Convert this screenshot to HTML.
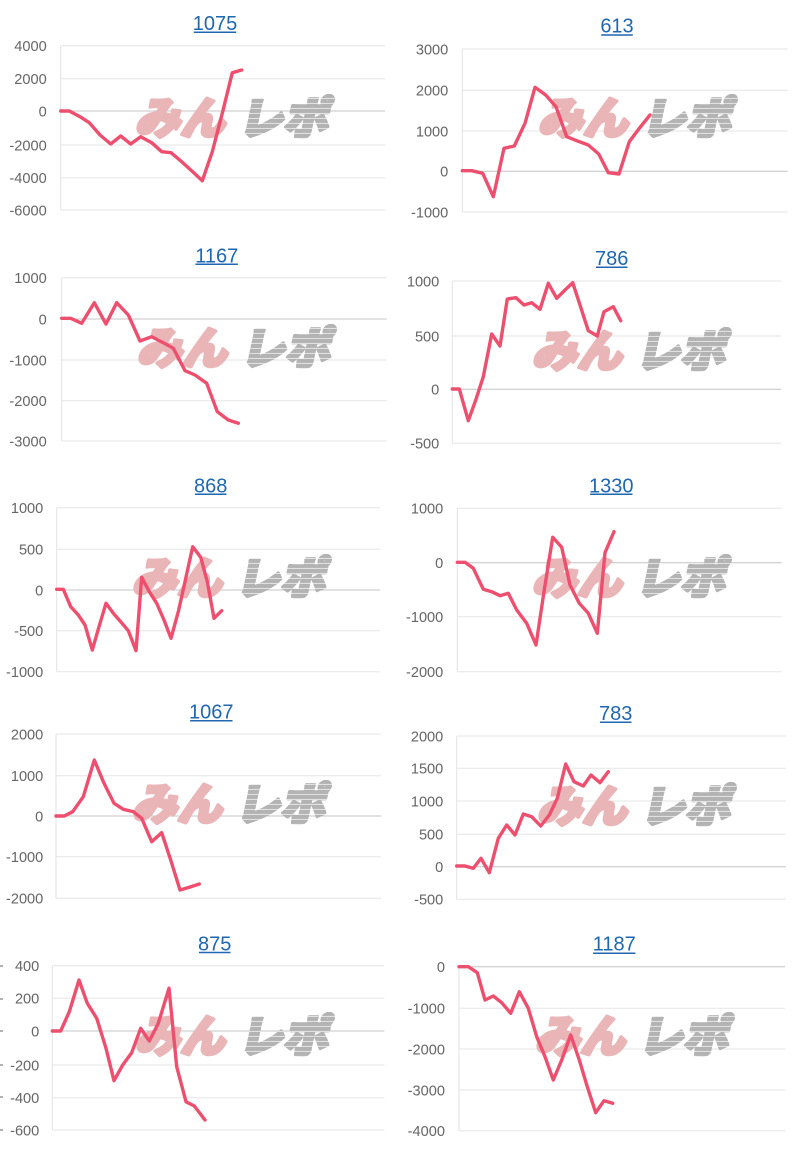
<!DOCTYPE html>
<html><head><meta charset="utf-8">
<style>
html,body{margin:0;padding:0;background:#fff;}
svg{display:block;}
.g{stroke:#e6e6e6;stroke-width:1;}
.z{stroke:#c4c4c4;stroke-width:1;}
.ax{stroke:#e2e2e2;stroke-width:1;}
.lb{font-family:"Liberation Sans",sans-serif;font-size:14.6px;fill:#666;text-anchor:end;}
.tt{font-family:"Liberation Sans",sans-serif;font-size:20px;fill:#1f67b1;text-anchor:middle;}
.ul{stroke:#1f67b1;stroke-width:1.5;}
.ln{fill:none;stroke:#ee4f6e;stroke-width:3.4;stroke-linejoin:round;stroke-linecap:round;}
.wp{font-family:"Liberation Sans","Noto Sans CJK JP",sans-serif;font-size:44px;font-weight:900;fill:#e9b5b7;stroke:#e9b5b7;stroke-width:3.5;stroke-linejoin:round;}
.wg{font-family:"Liberation Sans","Noto Sans CJK JP",sans-serif;font-size:44px;font-weight:900;fill:url(#st);stroke:url(#st);stroke-width:3.5;stroke-linejoin:round;}
</style></head>
<body>
<svg width="802" height="1150" viewBox="0 0 802 1150" xmlns="http://www.w3.org/2000/svg">
<defs>
<pattern id="st" patternUnits="userSpaceOnUse" x="0" y="0" width="10" height="5">
<rect x="0" y="0" width="10" height="5" fill="#b3b3b3"/>
<rect x="0" y="4" width="10" height="1" fill="#e4e4e4"/>
</pattern>
</defs>

<!-- Chart 1 -->
<text class="tt" x="215" y="30">1075</text><line class="ul" x1="193.8" y1="32.3" x2="236.2" y2="32.3"/>
<line class="g" x1="60.7" y1="45.7" x2="385" y2="45.7"/>
<line class="g" x1="60.7" y1="78.7" x2="385" y2="78.7"/>
<line class="z" x1="60.7" y1="111" x2="385" y2="111"/>
<line class="g" x1="60.7" y1="145" x2="385" y2="145"/>
<line class="g" x1="60.7" y1="177.7" x2="385" y2="177.7"/>
<line class="g" x1="60.7" y1="210" x2="385" y2="210"/>
<line class="ax" x1="60.7" y1="45.7" x2="60.7" y2="210"/>
<text class="lb" x="46.7" y="51">4000</text>
<text class="lb" x="46.7" y="84">2000</text>
<text class="lb" x="46.7" y="116.3">0</text>
<text class="lb" x="46.7" y="150.3">-2000</text>
<text class="lb" x="46.7" y="183">-4000</text>
<text class="lb" x="46.7" y="215.3">-6000</text>
<g transform="translate(135,134) skewX(-12)"><text class="wp" x="0" y="0" textLength="90" lengthAdjust="spacingAndGlyphs">みん</text></g>
<g transform="translate(238,134) skewX(-12)"><text class="wg" x="0" y="0" textLength="90" lengthAdjust="spacingAndGlyphs">レポ</text></g>
<polyline class="ln" points="60.7,111 69.3,111 80,116.7 89.3,122.7 100,135 110.7,144 120.7,136 130.7,144 140.7,136.7 151.7,142.7 161.7,151.7 171,152.7 181.7,161.7 192.7,171.7 202.3,180.7 212.3,151.7 222.7,111.7 232.3,72.7 241.7,70"/>

<!-- Chart 2 -->
<text class="tt" x="617" y="32.5">613</text><line class="ul" x1="601.2" y1="35" x2="632.8" y2="35"/>
<line class="g" x1="462.3" y1="49" x2="787.7" y2="49"/>
<line class="g" x1="462.3" y1="90.3" x2="787.7" y2="90.3"/>
<line class="g" x1="462.3" y1="131" x2="787.7" y2="131"/>
<line class="z" x1="462.3" y1="171.3" x2="787.7" y2="171.3"/>
<line class="g" x1="462.3" y1="212" x2="787.7" y2="212"/>
<line class="ax" x1="462.3" y1="49" x2="462.3" y2="212"/>
<text class="lb" x="448.3" y="54.3">3000</text>
<text class="lb" x="448.3" y="95.6">2000</text>
<text class="lb" x="448.3" y="136.3">1000</text>
<text class="lb" x="448.3" y="176.6">0</text>
<text class="lb" x="448.3" y="217.3">-1000</text>
<g transform="translate(538,134) skewX(-12)"><text class="wp" x="0" y="0" textLength="90" lengthAdjust="spacingAndGlyphs">みん</text></g>
<g transform="translate(641,134) skewX(-12)"><text class="wg" x="0" y="0" textLength="90" lengthAdjust="spacingAndGlyphs">レポ</text></g>
<polyline class="ln" points="462.3,170.7 471.7,170.7 482.7,173.3 493.3,196.7 504,148.3 514.3,146 525,123.3 535,87.3 545.7,95 556,106.7 566.7,136.7 576.7,140.7 588.3,145 598.7,154 608.3,172.7 619,174 629.3,141.7 639.3,128.3 650,115"/>

<!-- Chart 3 -->
<text class="tt" x="216.7" y="262.3">1167</text><line class="ul" x1="195.5" y1="264.3" x2="237.9" y2="264.3"/>
<line class="g" x1="61.7" y1="277.7" x2="386.7" y2="277.7"/>
<line class="z" x1="61.7" y1="319" x2="386.7" y2="319"/>
<line class="g" x1="61.7" y1="360" x2="386.7" y2="360"/>
<line class="g" x1="61.7" y1="400.7" x2="386.7" y2="400.7"/>
<line class="g" x1="61.7" y1="441" x2="386.7" y2="441"/>
<line class="ax" x1="61.7" y1="277.7" x2="61.7" y2="441"/>
<text class="lb" x="46.7" y="283">1000</text>
<text class="lb" x="46.7" y="324.3">0</text>
<text class="lb" x="46.7" y="365.3">-1000</text>
<text class="lb" x="46.7" y="406">-2000</text>
<text class="lb" x="46.7" y="446.3">-3000</text>
<g transform="translate(137,364) skewX(-12)"><text class="wp" x="0" y="0" textLength="90" lengthAdjust="spacingAndGlyphs">みん</text></g>
<g transform="translate(240,364) skewX(-12)"><text class="wg" x="0" y="0" textLength="90" lengthAdjust="spacingAndGlyphs">レポ</text></g>
<polyline class="ln" points="61.7,318.3 70.7,318.3 81.7,323.3 94.3,302.7 106,324 116.7,302.7 128.3,315 140,341 151.7,336.7 163.3,342.7 173.3,348.3 185,370.7 195,375 206.7,383.3 217.3,411.7 228.3,420 238.3,423.3"/>

<!-- Chart 4 -->
<text class="tt" x="611.7" y="265">786</text><line class="ul" x1="595.9" y1="267.3" x2="627.5" y2="267.3"/>
<line class="g" x1="452.3" y1="281" x2="781" y2="281"/>
<line class="g" x1="452.3" y1="336" x2="781" y2="336"/>
<line class="z" x1="452.3" y1="389.3" x2="781" y2="389.3"/>
<line class="g" x1="452.3" y1="443.3" x2="781" y2="443.3"/>
<line class="ax" x1="452.3" y1="281" x2="452.3" y2="443.3"/>
<text class="lb" x="439.3" y="286.3">1000</text>
<text class="lb" x="439.3" y="341.3">500</text>
<text class="lb" x="439.3" y="394.6">0</text>
<text class="lb" x="439.3" y="448.6">-500</text>
<g transform="translate(532,367) skewX(-12)"><text class="wp" x="0" y="0" textLength="90" lengthAdjust="spacingAndGlyphs">みん</text></g>
<g transform="translate(635,367) skewX(-12)"><text class="wg" x="0" y="0" textLength="90" lengthAdjust="spacingAndGlyphs">レポ</text></g>
<polyline class="ln" points="452.3,389 459.3,389 468.3,420.7 476,399.3 483.3,376.7 491.7,334 500,346 507.3,299 516,297.7 524,305 531.7,302.7 540,309.3 548.3,283.3 556.7,298.3 565,290 572.7,282.7 580,305 588.3,330.7 597.3,336 604,311.7 613.3,306.7 620.7,320.7"/>

<!-- Chart 5 -->
<text class="tt" x="210.7" y="492.3">868</text><line class="ul" x1="194.9" y1="494.3" x2="226.5" y2="494.3"/>
<line class="g" x1="56.7" y1="507.7" x2="380" y2="507.7"/>
<line class="g" x1="56.7" y1="549.3" x2="380" y2="549.3"/>
<line class="z" x1="56.7" y1="590" x2="380" y2="590"/>
<line class="g" x1="56.7" y1="630.7" x2="380" y2="630.7"/>
<line class="g" x1="56.7" y1="671.7" x2="380" y2="671.7"/>
<line class="ax" x1="56.7" y1="507.7" x2="56.7" y2="671.7"/>
<text class="lb" x="43.3" y="513">1000</text>
<text class="lb" x="43.3" y="554.6">500</text>
<text class="lb" x="43.3" y="595.3">0</text>
<text class="lb" x="43.3" y="636">-500</text>
<text class="lb" x="43.3" y="677">-1000</text>
<g transform="translate(132,594) skewX(-12)"><text class="wp" x="0" y="0" textLength="90" lengthAdjust="spacingAndGlyphs">みん</text></g>
<g transform="translate(235,594) skewX(-12)"><text class="wg" x="0" y="0" textLength="90" lengthAdjust="spacingAndGlyphs">レポ</text></g>
<polyline class="ln" points="56.7,589.3 63.3,589.3 70.7,606.7 78.3,615 85,625 92.3,650 99,626.7 106,603.3 113.3,613.3 120.7,621.7 128.3,630.7 136,650.7 141.7,577.3 149.3,591.7 156.7,603.3 164,620 171,638.3 178.3,611.7 185,581.7 192.7,546.7 200.7,557.3 207.3,581.7 214,618.3 221.7,610.7"/>

<!-- Chart 6 -->
<text class="tt" x="611.3" y="492.3">1330</text><line class="ul" x1="590.1" y1="494.3" x2="632.5" y2="494.3"/>
<line class="g" x1="457.3" y1="508.3" x2="781.7" y2="508.3"/>
<line class="z" x1="457.3" y1="562.7" x2="781.7" y2="562.7"/>
<line class="g" x1="457.3" y1="616.7" x2="781.7" y2="616.7"/>
<line class="g" x1="457.3" y1="671.7" x2="781.7" y2="671.7"/>
<line class="ax" x1="457.3" y1="508.3" x2="457.3" y2="671.7"/>
<text class="lb" x="443.3" y="513.6">1000</text>
<text class="lb" x="443.3" y="568">0</text>
<text class="lb" x="443.3" y="622">-1000</text>
<text class="lb" x="443.3" y="677">-2000</text>
<g transform="translate(532,594) skewX(-12)"><text class="wp" x="0" y="0" textLength="90" lengthAdjust="spacingAndGlyphs">みん</text></g>
<g transform="translate(635,594) skewX(-12)"><text class="wg" x="0" y="0" textLength="90" lengthAdjust="spacingAndGlyphs">レポ</text></g>
<polyline class="ln" points="457.3,562.3 465,562.3 473.3,568.3 483.3,589.3 491.7,591.7 500,595.7 508.3,593.3 516.7,610 526.7,623.3 536,645 544,591.7 552.7,537.3 561.7,547.3 570,585 579.3,603.3 588.3,613.3 597.3,633.3 605,552.7 614,531.7"/>

<!-- Chart 7 -->
<text class="tt" x="211.3" y="718.3">1067</text><line class="ul" x1="190.1" y1="720.7" x2="232.5" y2="720.7"/>
<line class="g" x1="56" y1="734" x2="381" y2="734"/>
<line class="g" x1="56" y1="775.7" x2="381" y2="775.7"/>
<line class="z" x1="56" y1="816" x2="381" y2="816"/>
<line class="g" x1="56" y1="856.7" x2="381" y2="856.7"/>
<line class="g" x1="56" y1="898.3" x2="381" y2="898.3"/>
<line class="ax" x1="56" y1="734" x2="56" y2="898.3"/>
<text class="lb" x="43.3" y="739.3">2000</text>
<text class="lb" x="43.3" y="781">1000</text>
<text class="lb" x="43.3" y="821.3">0</text>
<text class="lb" x="43.3" y="862">-1000</text>
<text class="lb" x="43.3" y="903.6">-2000</text>
<g transform="translate(132,820) skewX(-12)"><text class="wp" x="0" y="0" textLength="90" lengthAdjust="spacingAndGlyphs">みん</text></g>
<g transform="translate(235,820) skewX(-12)"><text class="wg" x="0" y="0" textLength="90" lengthAdjust="spacingAndGlyphs">レポ</text></g>
<polyline class="ln" points="56,816 64.3,816 72.7,811.7 83.3,796.7 94.3,760 104,783.3 114,803.3 123.3,809.3 133.3,811.7 141.7,818.3 151.7,841.7 161.7,832.7 170.7,860 180,890 189.3,887.3 199.3,884"/>

<!-- Chart 8 -->
<text class="tt" x="615.7" y="720">783</text><line class="ul" x1="599.9" y1="722.3" x2="631.5" y2="722.3"/>
<line class="g" x1="456.7" y1="736" x2="785.7" y2="736"/>
<line class="g" x1="456.7" y1="768.3" x2="785.7" y2="768.3"/>
<line class="g" x1="456.7" y1="801" x2="785.7" y2="801"/>
<line class="g" x1="456.7" y1="834.3" x2="785.7" y2="834.3"/>
<line class="z" x1="456.7" y1="866.7" x2="785.7" y2="866.7"/>
<line class="g" x1="456.7" y1="899.3" x2="785.7" y2="899.3"/>
<line class="ax" x1="456.7" y1="736" x2="456.7" y2="899.3"/>
<text class="lb" x="443.3" y="741.3">2000</text>
<text class="lb" x="443.3" y="773.6">1500</text>
<text class="lb" x="443.3" y="806.3">1000</text>
<text class="lb" x="443.3" y="839.6">500</text>
<text class="lb" x="443.3" y="872">0</text>
<text class="lb" x="443.3" y="904.6">-500</text>
<g transform="translate(537,822) skewX(-12)"><text class="wp" x="0" y="0" textLength="90" lengthAdjust="spacingAndGlyphs">みん</text></g>
<g transform="translate(640,822) skewX(-12)"><text class="wg" x="0" y="0" textLength="90" lengthAdjust="spacingAndGlyphs">レポ</text></g>
<polyline class="ln" points="456.7,866 465,866 473.3,868.3 481,858.3 489.3,872.7 498.3,838.3 506.7,825 515,835 523.3,814 531.7,816.7 540.7,826 549.3,815 557.3,798.3 565.7,764 574,781.7 583.3,786 591,775 600,782.7 608.3,771.7"/>

<!-- Chart 9 -->
<text class="tt" x="214.7" y="950.7">875</text><line class="ul" x1="198.9" y1="952.5" x2="230.5" y2="952.5"/>
<line class="g" x1="52.3" y1="965.7" x2="384.3" y2="965.7"/>
<line class="g" x1="52.3" y1="998.3" x2="384.3" y2="998.3"/>
<line class="z" x1="52.3" y1="1031" x2="384.3" y2="1031"/>
<line class="g" x1="52.3" y1="1065" x2="384.3" y2="1065"/>
<line class="g" x1="52.3" y1="1097.7" x2="384.3" y2="1097.7"/>
<line class="g" x1="52.3" y1="1130" x2="384.3" y2="1130"/>
<line class="ax" x1="52.3" y1="965.7" x2="52.3" y2="1130"/>
<text class="lb" x="39.3" y="971">400</text>
<text class="lb" x="39.3" y="1003.6">200</text>
<text class="lb" x="39.3" y="1036.3">0</text>
<text class="lb" x="39.3" y="1070.3">-200</text>
<text class="lb" x="39.3" y="1103">-400</text>
<text class="lb" x="39.3" y="1135.3">-600</text>
<g stroke="#888" stroke-width="1.3">
<line x1="0" y1="966" x2="3" y2="966"/><line x1="0" y1="999" x2="3" y2="999"/><line x1="0" y1="1031" x2="3" y2="1031"/><line x1="0" y1="1065" x2="3" y2="1065"/><line x1="0" y1="1097" x2="3" y2="1097"/><line x1="0" y1="1130" x2="3" y2="1130"/>
</g>
<g transform="translate(135,1052) skewX(-12)"><text class="wp" x="0" y="0" textLength="90" lengthAdjust="spacingAndGlyphs">みん</text></g>
<g transform="translate(238,1052) skewX(-12)"><text class="wg" x="0" y="0" textLength="90" lengthAdjust="spacingAndGlyphs">レポ</text></g>
<polyline class="ln" points="52.3,1031 60.7,1031 69.3,1011.7 79,980 87.3,1003.3 96.7,1018.3 106,1048.3 114,1080.7 122.7,1065 131.7,1052.7 140.7,1028.3 149.3,1041 158.3,1023.3 169,988.3 176.7,1066.7 186,1101.7 194.3,1106 205,1120"/>

<!-- Chart 10 -->
<text class="tt" x="614.3" y="950.7">1187</text><line class="ul" x1="593.1" y1="953.3" x2="635.5" y2="953.3"/>
<line class="z" x1="459" y1="966.7" x2="785" y2="966.7"/>
<line class="g" x1="459" y1="1008.3" x2="785" y2="1008.3"/>
<line class="g" x1="459" y1="1049" x2="785" y2="1049"/>
<line class="g" x1="459" y1="1090" x2="785" y2="1090"/>
<line class="g" x1="459" y1="1130.7" x2="785" y2="1130.7"/>
<line class="ax" x1="459" y1="966.7" x2="459" y2="1130.7"/>
<text class="lb" x="445" y="972">0</text>
<text class="lb" x="445" y="1013.6">-1000</text>
<text class="lb" x="445" y="1054.3">-2000</text>
<text class="lb" x="445" y="1095.3">-3000</text>
<text class="lb" x="445" y="1136">-4000</text>
<g transform="translate(535,1052) skewX(-12)"><text class="wp" x="0" y="0" textLength="90" lengthAdjust="spacingAndGlyphs">みん</text></g>
<g transform="translate(638,1052) skewX(-12)"><text class="wg" x="0" y="0" textLength="90" lengthAdjust="spacingAndGlyphs">レポ</text></g>
<polyline class="ln" points="459,966.7 468.3,966.7 477.3,972.7 485,1000 493.3,996 501.7,1002.7 510.7,1013.3 519.3,991.7 528.3,1008.3 536.7,1036.7 545,1056.7 553.3,1080 561.7,1060 570.7,1035 579.3,1060 587.3,1086.7 595.7,1112.7 604,1100.7 612.7,1103.3"/>

</svg>
</body></html>
